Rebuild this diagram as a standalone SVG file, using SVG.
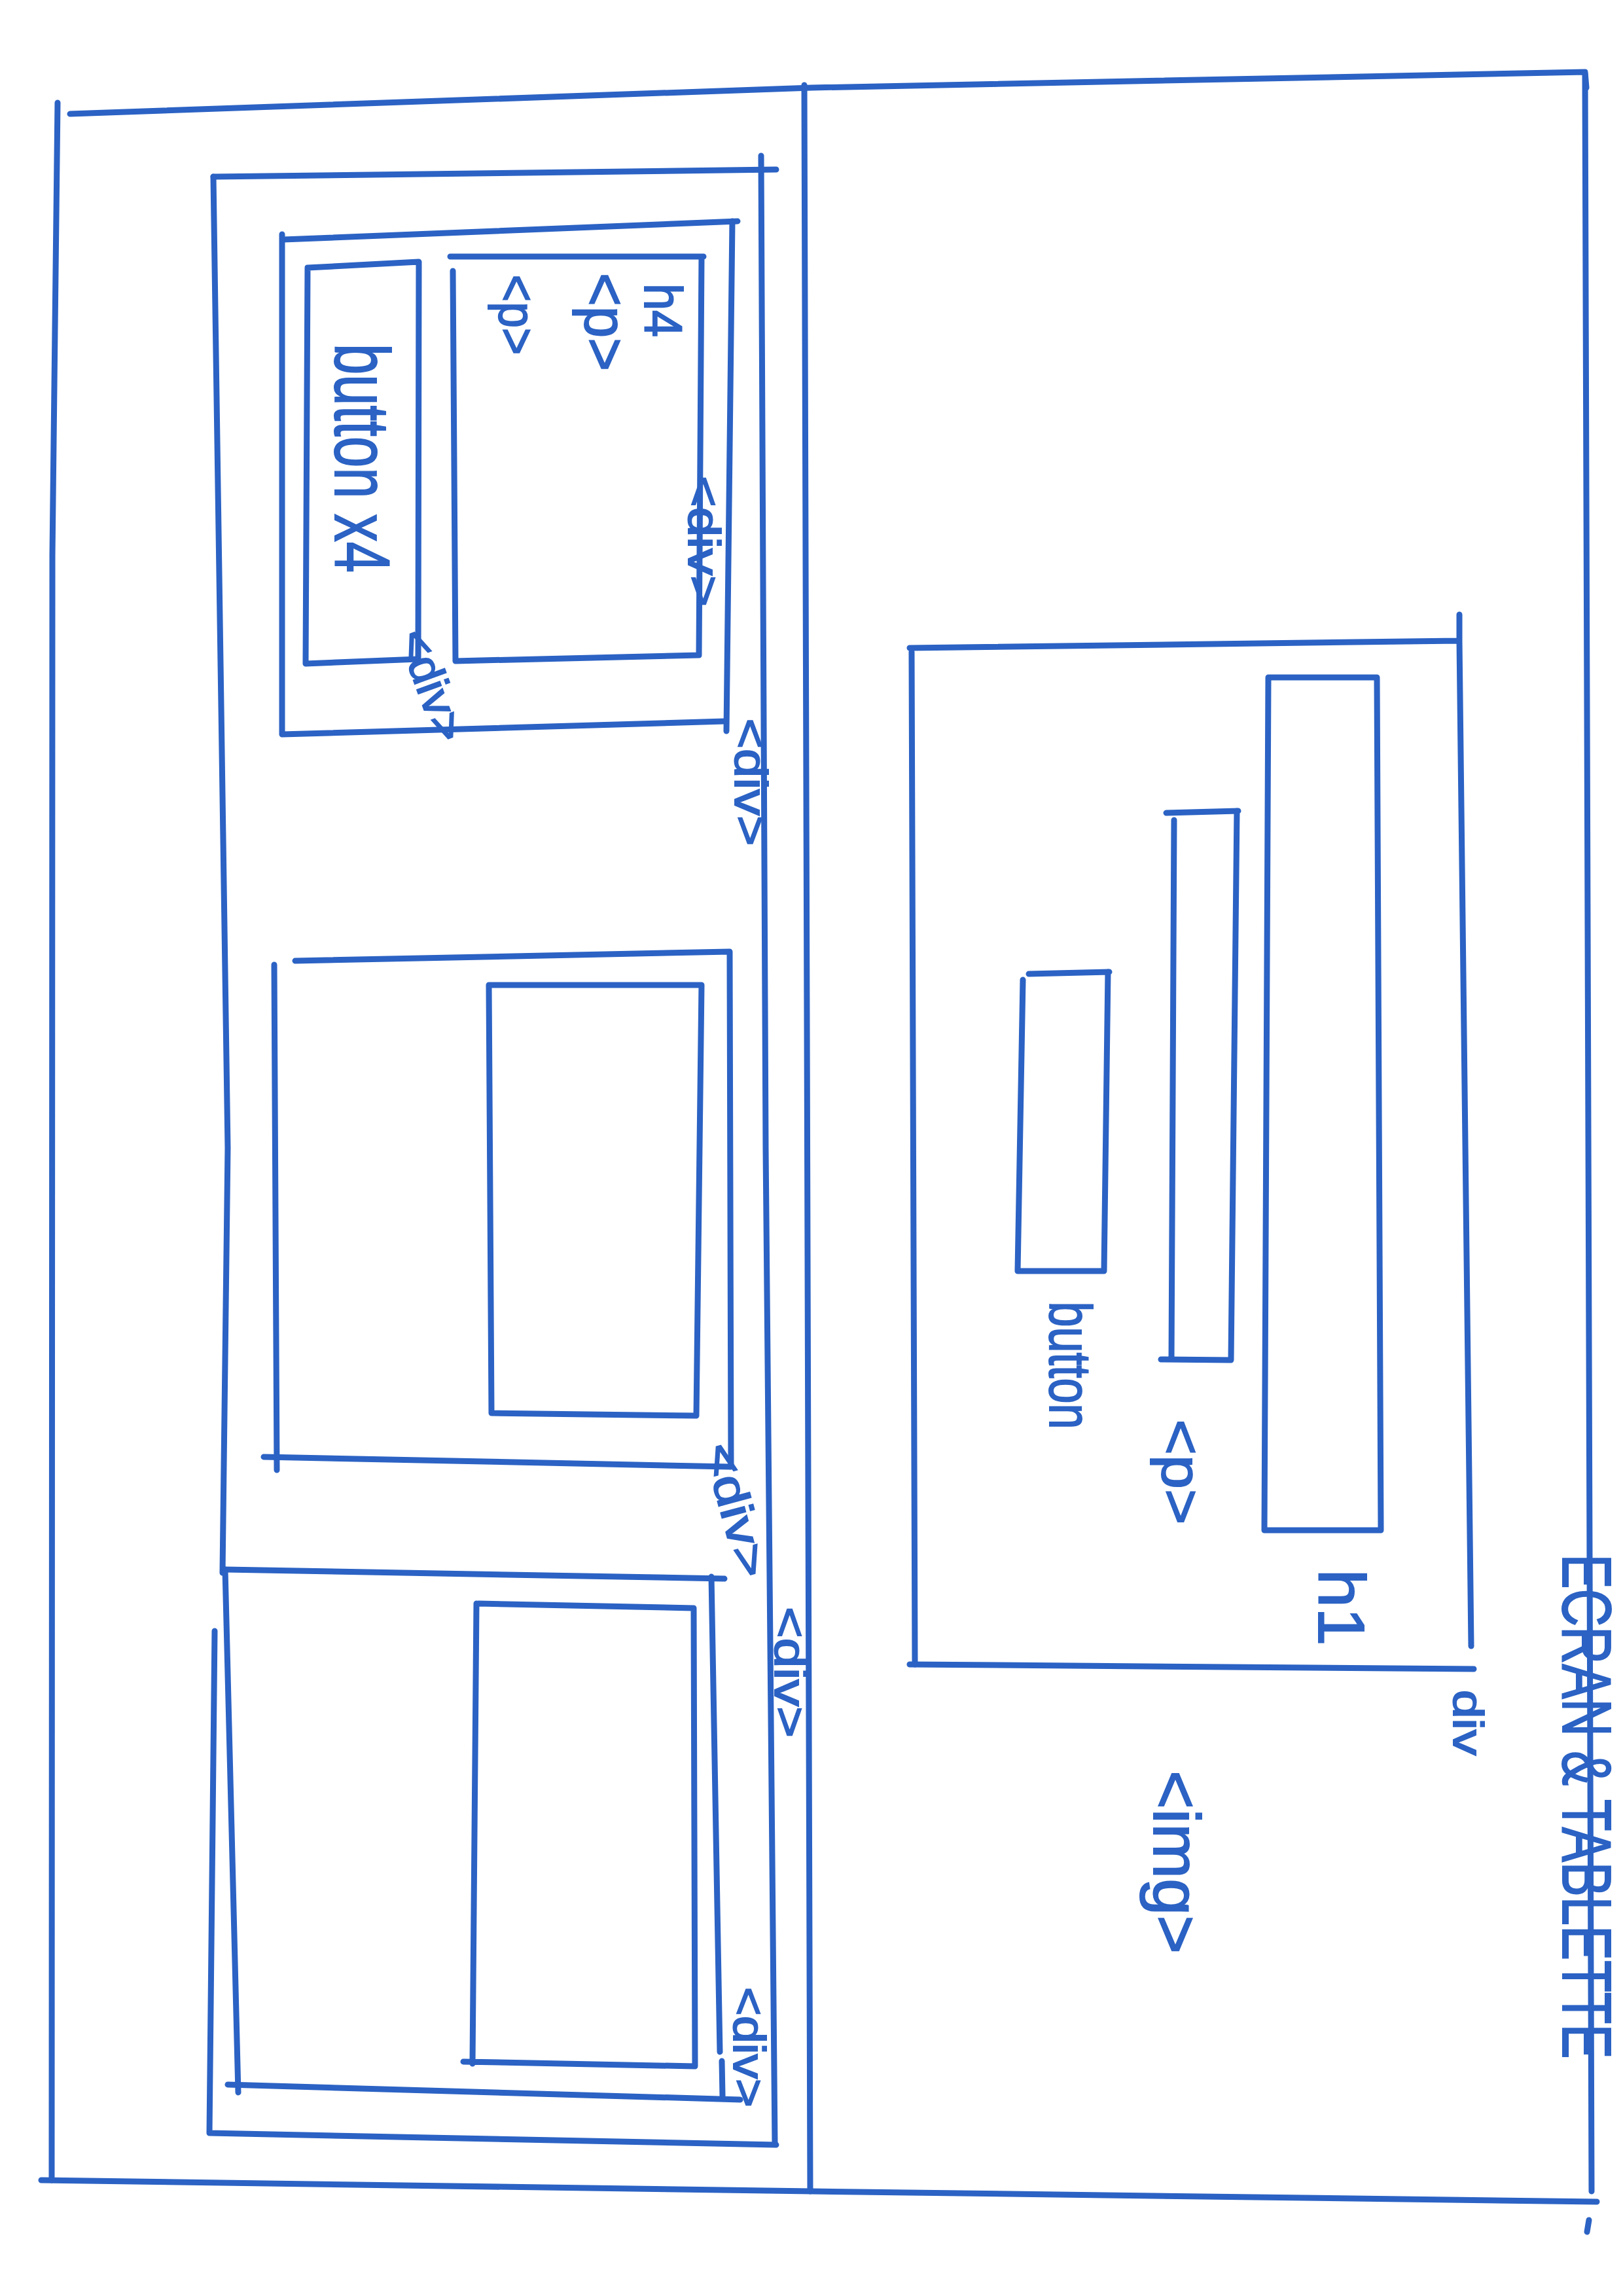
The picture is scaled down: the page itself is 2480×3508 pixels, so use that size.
<svg xmlns="http://www.w3.org/2000/svg" width="2480" height="3508" viewBox="0 0 2480 3508">
<style>
.ln{fill:none;stroke:#2b62c4;stroke-width:9;stroke-linecap:round;stroke-linejoin:round}
.t{fill:#2b62c4;stroke:#2b62c4;stroke-width:2;font-family:"Liberation Sans","DejaVu Sans",sans-serif;text-anchor:middle;dominant-baseline:central}
</style>
<rect width="2480" height="3508" fill="#ffffff"/>
<g id="page">
<path class="ln" d="M88,157 L80,849 L79,3331"/>
<path class="ln" d="M107,174 L1240,134 L2422,110 L2424,134"/>
<path class="ln" d="M2422,113 L2432,3348"/>
<path class="ln" d="M63,3331 L1240,3348 L2440,3364"/>
<path class="ln" d="M1229,130 L1238,3348"/>
<path class="ln" d="M2428,3392 L2425,3410"/>
</g>
<g id="left-container">
<path class="ln" d="M326,270 L1186,259"/>
<path class="ln" d="M326,270 L348,1754 L340,2403"/>
<path class="ln" d="M328,2492 L320,3259 L1186,3277"/>
<path class="ln" d="M1163,238 L1170,1754 L1184,3276"/>
<text class="t" font-size="68" transform="translate(1208,2555) rotate(90)" textLength="200" lengthAdjust="spacingAndGlyphs">&lt;div&gt;</text>
</g>
<g id="card1">
<path class="ln" d="M433,366 L1127,338"/>
<path class="ln" d="M431,358 L431,1122 L1107,1102"/>
<path class="ln" d="M1119,338 L1110,1117"/>
<g id="card1-buttons">
<path class="ln" d="M470,409 L640,400 L639,1007 L467,1014 Z"/>
<text class="t" font-size="118" transform="translate(553,700) rotate(90)" textLength="350" lengthAdjust="spacingAndGlyphs">button x4</text>
</g>
<g id="card1-content">
<path class="ln" d="M688,392 L1075,392 M692,414 L696,1010 L1068,1001 L1072,392"/>
<text class="t" font-size="82" transform="translate(1013,474) rotate(90)" textLength="82" lengthAdjust="spacingAndGlyphs">h4</text>
<text class="t" font-size="90" transform="translate(925,492) rotate(90)" textLength="150" lengthAdjust="spacingAndGlyphs">&lt;p&gt;</text>
<text class="t" font-size="80" transform="translate(790,481) rotate(90)" textLength="123" lengthAdjust="spacingAndGlyphs">&lt;p&gt;</text>
<text class="t" font-size="68" transform="translate(1076,827) rotate(90)" textLength="200" lengthAdjust="spacingAndGlyphs">&lt;div&gt;</text>
</g>
<text class="t" font-size="70" transform="translate(660,1047) rotate(70)" textLength="177" lengthAdjust="spacingAndGlyphs">&lt;div&gt;</text>
<text class="t" font-size="70" transform="translate(1147,1195) rotate(90)" textLength="195" lengthAdjust="spacingAndGlyphs">&lt;div&gt;</text>
</g>
<g id="card2">
<path class="ln" d="M451,1468 L1115,1454 L1117,2241"/>
<path class="ln" d="M419,1474 L423,2246"/>
<path class="ln" d="M403,2226 L1115,2241"/>
<path class="ln" d="M747,1505 L1072,1505 L1064,2163 L751,2159 Z"/>
<text class="t" font-size="70" transform="translate(1125,2307) rotate(75)" textLength="210" lengthAdjust="spacingAndGlyphs">&lt;div&gt;</text>
</g>
<g id="card3">
<path class="ln" d="M344,2398 L1107,2412"/>
<path class="ln" d="M344,2398 L364,3197"/>
<path class="ln" d="M1087,2409 L1100,3135 M1103,3149 L1104,3202"/>
<path class="ln" d="M348,3185 L1131,3208"/>
<path class="ln" d="M731,2450 L1060,2457 L1062,3157 L708,3150 M728,2450 L722,3153"/>
<text class="t" font-size="68" transform="translate(1145,3128) rotate(90)" textLength="184" lengthAdjust="spacingAndGlyphs">&lt;div&gt;</text>
</g>
<g id="hero-div">
<path class="ln" d="M1390,990 L2228,979 M2230,939 L2230,979 L2248,2515"/>
<path class="ln" d="M1393,996 L1398,2543"/>
<path class="ln" d="M1390,2543 L2252,2550"/>
<text class="t" font-size="65" transform="translate(2243,2632) rotate(90)" textLength="100" lengthAdjust="spacingAndGlyphs">div</text>
</g>
<g id="hero-h1">
<path class="ln" d="M1938,1035 L2104,1035 L2110,2338 L1932,2338 Z"/>
<text class="t" font-size="100" transform="translate(2050,2456) rotate(90)" textLength="117" lengthAdjust="spacingAndGlyphs">h1</text>
</g>
<g id="hero-p">
<path class="ln" d="M1782,1242 L1892,1239 M1890,1239 L1881,2078 L1774,2077 M1794,1253 L1790,2077"/>
<text class="t" font-size="85" transform="translate(1805,2249) rotate(90)" textLength="161" lengthAdjust="spacingAndGlyphs">&lt;p&gt;</text>
</g>
<g id="hero-button">
<path class="ln" d="M1572,1488 L1695,1485 M1693,1485 L1687,1942 L1555,1942 M1563,1497 L1555,1942"/>
<text class="t" font-size="90" transform="translate(1635,2086) rotate(90)" textLength="195" lengthAdjust="spacingAndGlyphs">button</text>
</g>
<g id="hero-img">
<text class="t" font-size="100" transform="translate(1798,2845) rotate(90)" textLength="280" lengthAdjust="spacingAndGlyphs">&lt;img&gt;</text>
</g>
<g id="title">
<text class="t" font-size="105" transform="translate(2424,2760) rotate(90)" textLength="771" lengthAdjust="spacingAndGlyphs">ECRAN &amp; TABLETTE</text>
</g>
<g id="connectors"></g>
</svg>
